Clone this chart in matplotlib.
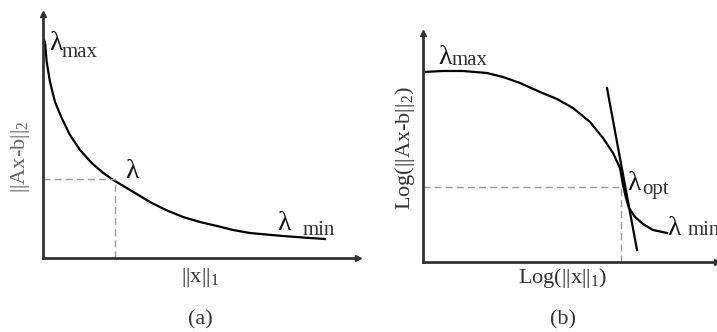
import numpy as np
import matplotlib.pyplot as plt

plt.rcParams['font.family'] = ['Liberation Serif', 'DejaVu Serif']
plt.rcParams['mathtext.fontset'] = 'custom'
plt.rcParams['mathtext.rm'] = 'Liberation Serif'

# panel (a): L-curve, ||Ax-b||_2 vs ||x||_1 (arbitrary units)
a_x = [1, 2, 3.7, 7, 12, 18.7, 27, 37, 48.7, 60.3, 70.3, 83.7, 93.7, 107,
       123, 140, 157, 174, 190, 207, 223, 240, 260, 282]
a_y = [218, 216, 196, 176, 156, 140, 123, 108, 95, 85, 78, 70, 64, 56,
       48, 41, 36, 32, 28, 25, 23.5, 22, 20.5, 19]
a_pick = (72, 79)

# panel (b): log-log L-curve
b_x = [0, 20, 40, 64, 80, 97, 117, 134, 150, 167, 180, 190, 197, 200, 203,
       206, 212, 220, 230, 244]
b_y = [190, 191, 191, 189, 185, 179, 170, 163, 154, 140, 124, 109, 94, 77,
       64, 54, 45, 38, 32, 29]
b_opt = (198, 75)
b_tan_x = [184, 214]
b_tan_y = [174, 12]

ink = '#333333'
dash = '#999999'

fig = plt.figure(figsize=(7.17, 3.32), dpi=100)
ax1 = fig.add_axes([43/717, 74/332, 315/717, 244/332])
ax2 = fig.add_axes([423/717, 70/332, 294/717, 229/332])


def arrow_axes(ax, w, h):
    ax.set_xlim(0, w)
    ax.set_ylim(0, h)
    for s in ['top', 'right']:
        ax.spines[s].set_visible(False)
    for s in ['left', 'bottom']:
        ax.spines[s].set_linewidth(2)
        ax.spines[s].set_color(ink)
    ax.set_xticks([])
    ax.set_yticks([])
    ax.plot(1, 0, '>', color=ink, ms=4, transform=ax.transAxes, clip_on=False)
    ax.plot(0, 1, '^', color=ink, ms=4, transform=ax.transAxes, clip_on=False)


def lam(ax, x, y, sub, sx, sy):
    ax.text(x, y, 'λ', fontsize=20, color='#111111', clip_on=False)
    if sub:
        ax.text(sx, sy, sub, fontsize=15, color=ink, clip_on=False)


arrow_axes(ax1, 315, 244)
ax1.plot(a_x, a_y, color='black', lw=1.6, solid_joinstyle='round')
ax1.plot([0, a_pick[0]], [a_pick[1], a_pick[1]], ls=(0, (5, 3)), color=dash, lw=1)
ax1.plot([a_pick[0], a_pick[0]], [0, a_pick[1]], ls=(0, (5, 3)), color=dash, lw=1)
lam(ax1, 6, 208, 'max', 19, 201)
lam(ax1, 82, 80, None, 0, 0)
lam(ax1, 234, 28, 'min', 260, 23)
ax1.text(157, -8, r'$||$x$||_1$', fontsize=16, color=ink, ha='center', va='top')
ax1.text(-23, 101, r'$||$Ax-b$||_2$', fontsize=16, color='#666666',
         rotation=90, ha='center', va='center')
ax1.text(157, -62, '(a)', fontsize=16, color=ink, ha='center', va='center')

arrow_axes(ax2, 294, 229)
ax2.plot(b_x, b_y, color='black', lw=1.6, solid_joinstyle='round')
ax2.plot(b_tan_x, b_tan_y, color='black', lw=1.6)
ax2.plot([0, b_opt[0]], [b_opt[1], b_opt[1]], ls=(0, (5, 3)), color=dash, lw=1)
ax2.plot([b_opt[0], b_opt[0]], [0, b_opt[1]], ls=(0, (5, 3)), color=dash, lw=1)
lam(ax2, 15, 198, 'max', 29, 197)
lam(ax2, 204, 72, 'opt', 219, 68)
lam(ax2, 244, 27, 'min', 265, 27)
ax2.text(140, -4, r'Log($||$x$||_1$)', fontsize=16, color=ink, ha='center', va='top')
ax2.text(-18, 114, r'Log($||$Ax-b$||_2$)', fontsize=16, color=ink,
         rotation=90, ha='center', va='center')
ax2.text(140, -58, '(b)', fontsize=16, color=ink, ha='center', va='center')

fig.savefig('out.png', dpi=100)
